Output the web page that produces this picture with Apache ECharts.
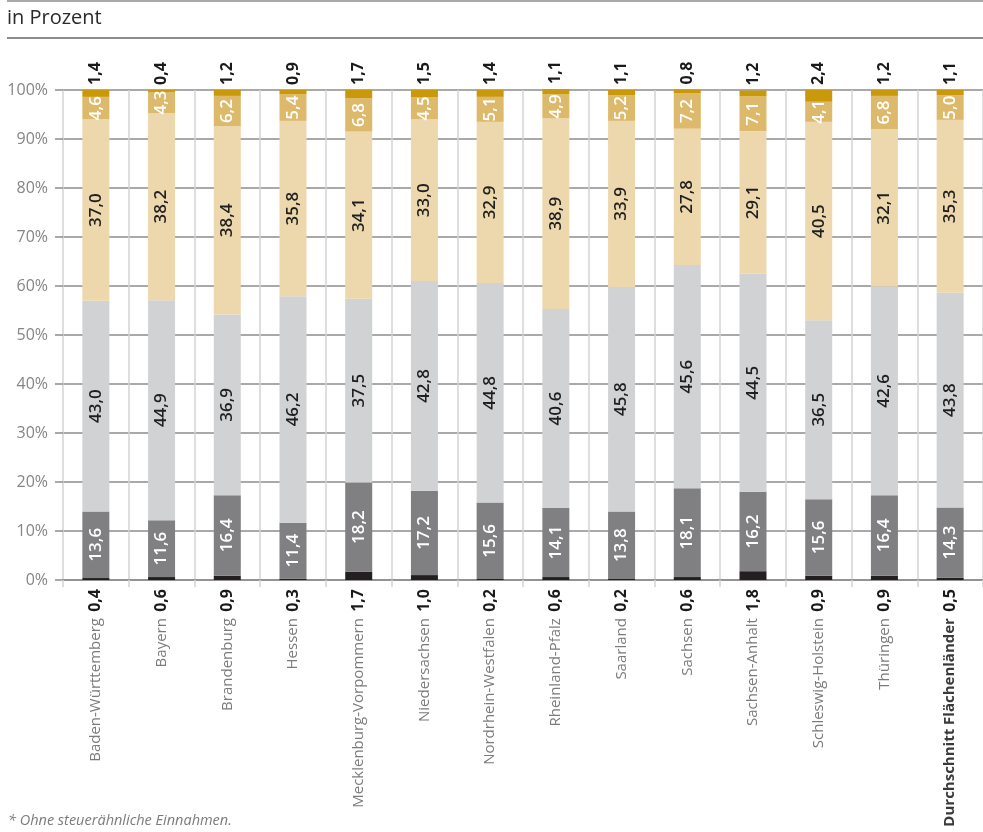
<!DOCTYPE html>
<html lang="de">
<head>
<meta charset="utf-8">
<title>in Prozent</title>
<script src="https://cdn.jsdelivr.net/npm/echarts@6/dist/echarts.min.js"></script>
<style>
  html, body { margin: 0; padding: 0; background: #ffffff; }
  #chart { width: 983px; height: 832px; }
</style>
</head>
<body>
<div id="chart"></div>
<script>
// Länder (Flächenländer) und Durchschnitt
const laender = [
  'Baden-Württemberg', 'Bayern', 'Brandenburg', 'Hessen', 'Mecklenburg-Vorpommern',
  'Niedersachsen', 'Nordrhein-Westfalen', 'Rheinland-Pfalz', 'Saarland', 'Sachsen',
  'Sachsen-Anhalt', 'Schleswig-Holstein', 'Thüringen', 'Durchschnitt Flächenländer'
];

// Anteile in Prozent, von unten nach oben gestapelt
const anteilSchwarz     = [0.4, 0.6, 0.9, 0.3, 1.7, 1.0, 0.2, 0.6, 0.2, 0.6, 1.8, 0.9, 0.9, 0.5];
const anteilDunkelgrau  = [13.6, 11.6, 16.4, 11.4, 18.2, 17.2, 15.6, 14.1, 13.8, 18.1, 16.2, 15.6, 16.4, 14.3];
const anteilHellgrau    = [43.0, 44.9, 36.9, 46.2, 37.5, 42.8, 44.8, 40.6, 45.8, 45.6, 44.5, 36.5, 42.6, 43.8];
const anteilBeige       = [37.0, 38.2, 38.4, 35.8, 34.1, 33.0, 32.9, 38.9, 33.9, 27.8, 29.1, 40.5, 32.1, 35.3];
const anteilHellgold    = [4.6, 4.3, 6.2, 5.4, 6.8, 4.5, 5.1, 4.9, 5.2, 7.2, 7.1, 4.1, 6.8, 5.0];
const anteilGold        = [1.4, 0.4, 1.2, 0.9, 1.7, 1.5, 1.4, 1.1, 1.1, 0.8, 1.2, 2.4, 1.2, 1.1];

// Achsenbeschriftung
const yTicks = [0, 10, 20, 30, 40, 50, 60, 70, 80, 90, 100];

const FONT = '"Open Sans", "Noto Sans", sans-serif';
const fmt = v => v.toFixed(1).replace('.', ',');

const chart = echarts.init(document.getElementById('chart'), null, { renderer: 'canvas' });

function insideLabel(color) {
  return {
    show: true,
    position: 'inside',
    rotate: 90,
    color: color,
    fontFamily: FONT,
    fontSize: 17,
    fontWeight: 600,
    formatter: p => fmt(p.value)
  };
}

const series = [
  { data: anteilSchwarz,    color: '#231f20', label: { show: false } },
  { data: anteilDunkelgrau, color: '#808082', label: insideLabel('#ffffff') },
  { data: anteilHellgrau,   color: '#d1d2d4', label: insideLabel('#1f1f1f') },
  { data: anteilBeige,      color: '#edd8ad', label: insideLabel('#1f1f1f') },
  { data: anteilHellgold,   color: '#ddb96b', label: insideLabel('#ffffff') },
  {
    data: anteilGold, color: '#c9980b',
    label: {
      show: true,
      position: 'top',
      distance: 5,
      rotate: 90,
      align: 'left',
      verticalAlign: 'middle',
      color: '#1a1a1a',
      fontFamily: FONT,
      fontSize: 16,
      fontWeight: 700,
      formatter: p => fmt(p.value)
    }
  }
].map((s, i) => ({
  name: 'Anteil ' + (i + 1),
  type: 'bar',
  stack: 'gesamt',
  barWidth: 27,
  clip: false,
  data: s.data,
  itemStyle: { color: s.color },
  label: s.label,
  emphasis: { disabled: true },
  z: 3
}));

const option = {
  animation: false,
  backgroundColor: '#ffffff',
  textStyle: { fontFamily: FONT },
  grid: { left: 63, top: 90, width: 926, bottom: 252, containLabel: false },
  xAxis: {
    type: 'category',
    data: laender,
    boundaryGap: true,
    axisLine: { show: true, lineStyle: { color: '#8c8c8c', width: 1.5 } },
    axisTick: { show: true, length: 7, lineStyle: { color: '#d3d3d3', width: 1.5 } },
    splitLine: { show: true, lineStyle: { color: '#d3d3d3', width: 1.5 } },
    axisLabel: {
      interval: 0,
      rotate: 90,
      margin: 9,
      fontFamily: FONT,
      formatter: (name, idx) => {
        const style = idx === laender.length - 1 ? 'nb' : 'n';
        return '{' + style + '|' + name + '}  {v|' + fmt(anteilSchwarz[idx]) + '}';
      },
      rich: {
        n:  { fontFamily: FONT, fontSize: 15, color: '#7b7b7b', fontWeight: 400 },
        nb: { fontFamily: FONT, fontSize: 15, color: '#3a3a3a', fontWeight: 700 },
        v:  { fontFamily: FONT, fontSize: 16, color: '#1a1a1a', fontWeight: 700 }
      }
    }
  },
  yAxis: {
    type: 'value',
    min: yTicks[0],
    max: yTicks[yTicks.length - 1],
    interval: 10,
    axisLine: { show: false },
    axisTick: { show: true, length: 8, lineStyle: { color: '#8c8c8c', width: 1.5 } },
    splitLine: { show: true, lineStyle: { color: '#8c8c8c', width: 1.5 } },
    axisLabel: {
      margin: 15,
      color: '#858585',
      fontFamily: FONT,
      fontSize: 16,
      formatter: v => v + '%'
    }
  },
  graphic: [
    { type: 'line', shape: { x1: 7, y1: 1, x2: 983, y2: 1 }, style: { stroke: '#8c8c8c', lineWidth: 1.5 } },
    { type: 'line', shape: { x1: 7, y1: 38, x2: 983, y2: 38 }, style: { stroke: '#8c8c8c', lineWidth: 2 } },
    {
      type: 'text', left: 7, top: 8,
      style: { text: 'in Prozent', fontFamily: FONT, fontSize: 20, fill: '#2a2a2a' }
    },
    {
      type: 'text', left: 8, top: 813,
      style: {
        text: '* Ohne steuerähnliche Einnahmen.',
        fontFamily: FONT, fontSize: 14.5, fontStyle: 'italic', fill: '#7b7b7b'
      }
    }
  ],
  series: series
};

chart.setOption(option);
</script>
</body>
</html>
